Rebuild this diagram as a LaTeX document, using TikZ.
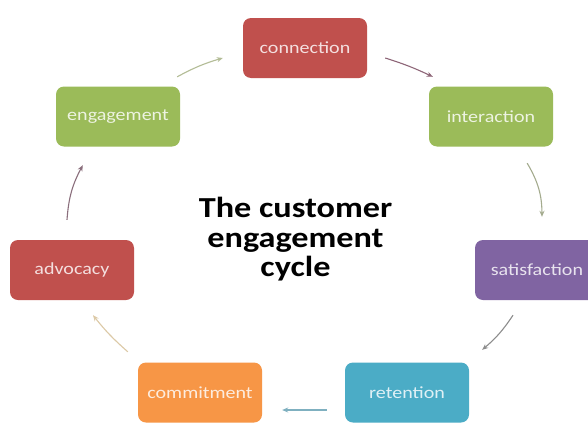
\documentclass[tikz,border=0pt]{standalone}
\usepackage{fontspec}
\setmainfont{Carlito}
\newfontfamily\stagefont[FakeStretch=1.18]{Carlito}
\newfontfamily\headfont[FakeStretch=1.18]{Carlito}
\usetikzlibrary{arrows.meta}

% stage fills
\definecolor{stRed}{HTML}{C0504D}
\definecolor{stGreen}{HTML}{9BBB59}
\definecolor{stPurple}{HTML}{8064A2}
\definecolor{stBlue}{HTML}{4BACC6}
\definecolor{stOrange}{HTML}{F79646}
% arrow strokes
\definecolor{arSage}{HTML}{B3BC96}
\definecolor{arMauve}{HTML}{8E6678}
\definecolor{arOlive}{HTML}{A4AB8E}
\definecolor{arGrey}{HTML}{8C8C8C}
\definecolor{arTeal}{HTML}{7FB0C0}
\definecolor{arTan}{HTML}{DCC9A6}
\definecolor{arPlum}{HTML}{8A6E7C}

\begin{document}
\begin{tikzpicture}[x=1pt,y=1pt,
  stage/.style={rounded corners=8pt, minimum width=124pt, minimum height=60pt,
    inner sep=0pt, fill=#1, text=white!82!#1,
    font=\stagefont\fontsize{17}{17}\selectfont},
  flow/.style={draw=#1, line width=1.1pt, -{Stealth[length=6pt,width=5pt]}},
  title/.style={align=center, inner sep=0pt,
    font=\headfont\bfseries\fontsize{29}{29.5}\selectfont}
]
\useasboundingbox (0,0) rectangle (588,-423);
\fill[white] (0,0) rectangle (588,-423);

% the seven stages of the cycle
\node[stage=stRed]    (conn) at (305,-48)    {connection};
\node[stage=stGreen]  (inter) at (491,-116.5) {interaction};
\node[stage=stPurple] (sat)  at (537,-270)   {satisfaction};
\node[stage=stBlue]   (ret)  at (407,-392.5) {retention};
\node[stage=stOrange] (comm) at (200,-392.5) {commitment};
\node[stage=stRed]    (adv)  at (72,-270)    {advocacy};
\node[stage=stGreen]  (eng)  at (118,-116.5) {engagement};

% centre heading
\node[title] (head) at (295.5,-239.5) {The customer\\engagement\\cycle};

% arrows running clockwise round the cycle
\draw[flow=arSage]  ([shift={(-3,9.5)}]eng.north east) to[bend left=6]
                    ([shift={(-20,-10)}]conn.west);
\draw[flow=arMauve] ([shift={(18,-10)}]conn.east) to[bend left=4]
                    ([shift={(4,9.5)}]inter.north west);
\draw[flow=arOlive] ([shift={(-26,-16.5)}]inter.south east) to[bend left=15]
                    ([shift={(5,23)}]sat.north);
\draw[flow=arGrey]  ([shift={(-24,-15)}]sat.south) to[bend left=8]
                    ([shift={(13,12.5)}]ret.north east);
\draw[flow=arTeal]  ([shift={(-18,-17.5)}]ret.west) --
                    ([shift={(20,-17.5)}]comm.east);
\draw[flow=arTan]   ([shift={(-10,10.5)}]comm.north west) to[bend left=5]
                    ([shift={(21,-15)}]adv.south);
\draw[flow=arPlum]  ([shift={(-5,20)}]adv.north) to[bend left=12]
                    ([shift={(27,-18.5)}]eng.south west);
\end{tikzpicture}
\end{document}
